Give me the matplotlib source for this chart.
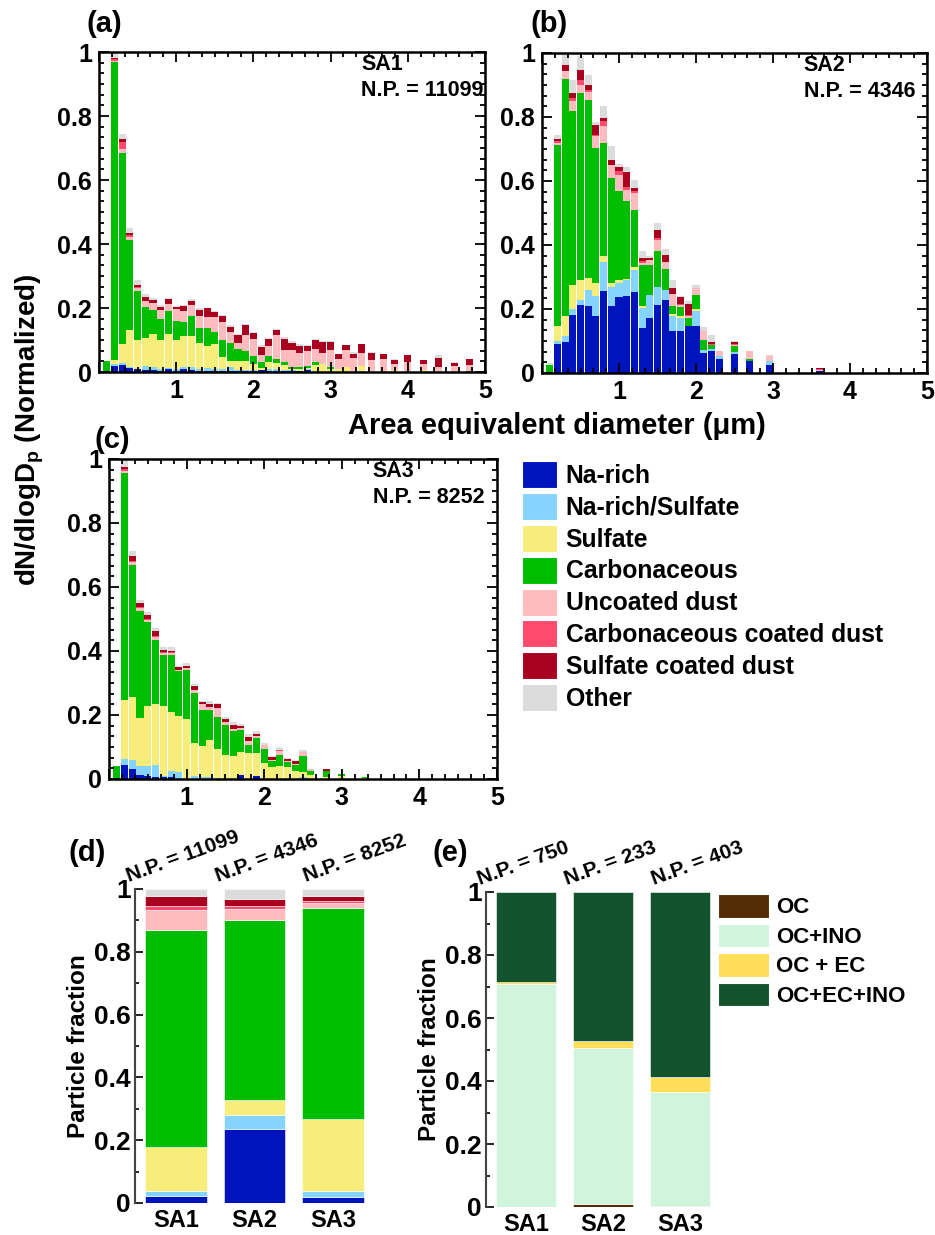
import numpy as np
import matplotlib
matplotlib.use("Agg")
import matplotlib.pyplot as plt
from matplotlib.patches import Patch
from matplotlib.ticker import MultipleLocator, FuncFormatter

plt.rcParams['font.family'] = ['Liberation Sans', 'DejaVu Sans']
plt.rcParams['font.weight'] = 'bold'
plt.rcParams['axes.labelweight'] = 'bold'
plt.rcParams['mathtext.fontset'] = 'custom'
plt.rcParams['mathtext.rm'] = 'Liberation Sans:bold'
plt.rcParams['mathtext.it'] = 'Liberation Sans:bold'
plt.rcParams['mathtext.bf'] = 'Liberation Sans:bold'

classes = ['Na-rich', 'Na-rich/Sulfate', 'Sulfate', 'Carbonaceous', 'Uncoated dust',
           'Carbonaceous coated dust', 'Sulfate coated dust', 'Other']
class_colors = ['#0014BE', '#85D4FF', '#F6ED7A', '#00BD00', '#FFBCBE', '#FF4A6E', '#AA0020', '#DCDCDC']

# ---- SA1 size distribution (bin centre in um, dN/dlogDp normalized) ----
sa1_d = [0.1, 0.2, 0.3, 0.4, 0.5, 0.6, 0.7, 0.8, 0.9, 1.0, 1.1, 1.2, 1.3, 1.4, 1.5, 1.6, 1.7, 1.8, 1.9, 2.0,
         2.1, 2.2, 2.3, 2.4, 2.5, 2.6, 2.7, 2.8, 2.9, 3.0, 3.1, 3.2, 3.3, 3.4, 3.53, 3.68, 3.83, 4.0, 4.2, 4.4,
         4.6, 4.8]
sa1_na = [0, .018, .021, .014, .010, .007, .005, .004, .008, .003, .008, .006, .003, .003, .004, .003, .003, .002,
          .002, .003, .005, .004, .004, .004, .003, .002, .006, 0, 0, 0, 0, 0, 0, 0, 0, 0, 0, 0, 0, 0, 0, 0]
sa1_nas = [0, .006, .007, .002, 0, .011, .011, .006, .004, .005, .008, .009, .007, .009, .006, .005, .012, .004,
           .003, .002, .002, .004, .006, .003, .002, 0, .002, .002, 0, 0, 0, 0, 0, .003, 0, 0, 0, 0, 0, 0, 0, 0]
sa1_sul = [0, .012, .061, .114, .089, .088, .104, .089, .108, .091, .095, .097, .080, .068, .076, .039, .018, .027,
           .030, .021, .004, .023, .019, .014, .005, .008, .004, .021, .024, .010, .008, .017, 0, .015, 0, 0, .005,
           .003, .005, 0, 0, 0]
sa1_carb = [.033, .932, .596, .281, .154, .097, .073, .068, .070, .059, .045, .064, .049, .059, .039, .052, .059,
            .040, .030, .023, .020, .019, .011, .010, .006, .006, .008, .007, 0, .005, 0, 0, 0, 0, 0, 0, 0, 0, 0,
            0, 0, .004]
sa1_dust = [0, .005, .013, .011, .011, .019, .023, .026, .021, .040, .034, .032, .037, .033, .047, .057, .033, .017,
            .050, .055, .021, .030, .075, .037, .052, .043, .046, .043, .034, .053, .034, .052, .045, .041, .036,
            .042, .021, .029, .019, .017, .020, .017]
sa1_cdust = [0, .005, .021, .006, .002, 0, 0, 0, 0, 0, 0, 0, 0, 0, 0, 0, 0, 0, 0, 0, 0, 0, 0, 0, 0, 0, 0, 0, 0, 0,
             0, 0, 0, 0, 0, 0, 0, 0, 0, 0, 0, 0]
sa1_sdust = [0, .003, .009, .007, .005, .012, .008, .010, .017, .005, .015, .015, .019, .028, .016, .018, .016,
             .025, .031, .018, .026, .024, .015, .036, .022, .022, .015, .026, .037, .025, .013, .015, .011, .027,
             .022, .013, .010, .020, .012, .026, .008, .019]
sa1_other = [0, .019, .015, .016, .015, .009, .008, .007, .003, .003, .003, .004, .005, .001, .002, .005, .007,
             .003, .003, .004, .005, .002, .004, .004, .006, .005, .002, .004, .003, .003, .001, .001, .008, .001,
             .004, 0, .006, 0, 0, .011, .002, .002]

# ---- SA2 ----
sa2_d = [0.1, 0.2, 0.3, 0.4, 0.5, 0.6, 0.7, 0.8, 0.9, 1.0, 1.1, 1.2, 1.3, 1.4, 1.5, 1.6, 1.7, 1.8, 1.9, 2.0,
         2.1, 2.2, 2.3, 2.5, 2.7, 2.95, 3.6]
sa2_na = [0, .091, .096, .182, .211, .210, .179, .255, .208, .238, .242, .252, .141, .172, .214, .227, .130, .130,
          .148, .146, .063, .068, .045, .060, .039, .026, .007]
sa2_nas = [0, .008, .019, .018, .016, .050, .063, .091, .061, .043, .048, .069, .062, .073, .055, .031, .047, .042,
           0, .047, .010, .008, .007, .005, 0, .010, 0]
sa2_sul = [0, .049, .062, .074, .065, .037, .039, .019, .012, .009, .004, .010, .005, 0, 0, 0, .008, .005, 0, .007,
           0, 0, 0, 0, 0, 0, 0]
sa2_carb = [.026, .566, .742, .544, .583, .557, .422, .354, .328, .278, .245, .179, .131, .094, .111, .067, .023,
            .030, .024, .045, .029, .010, 0, .018, .006, 0, 0]
sa2_dust = [0, .005, .024, .031, .026, .023, .037, .052, .042, .052, .034, .053, .005, .015, .037, .021, .040,
            .006, .006, .021, .030, 0, .018, .004, .023, .016, .002]
sa2_cdust = [0, .005, .002, .010, .014, .008, .005, .015, 0, .010, .007, .005, .005, 0, .005, 0, 0, .004, .004, 0,
             0, .004, 0, .003, 0, 0, .002]
sa2_sdust = [0, .007, .017, .016, .031, .014, .031, .010, .016, .013, .047, .010, .010, .006, .026, .024, .018,
             .020, .035, 0, 0, .007, 0, .006, 0, 0, .004]
sa2_other = [.005, .014, .035, .040, .044, .033, .007, .039, .043, .011, .017, .024, .021, .005, .021, .018, .026,
             .004, .009, .009, .012, .023, 0, .003, 0, .005, 0]

# ---- SA3 ----
sa3_d = [0.1, 0.2, 0.3, 0.4, 0.5, 0.6, 0.7, 0.8, 0.9, 1.0, 1.1, 1.2, 1.3, 1.4, 1.5, 1.6, 1.7, 1.8, 1.9, 2.0,
         2.1, 2.2, 2.3, 2.4, 2.5, 2.6, 2.8, 3.0, 3.3]
sa3_na = [0, .045, .031, .011, .008, .006, .005, .005, 0, 0, 0, 0, 0, 0, 0, 0, .011, 0, .008, 0, 0, 0, 0, 0, 0, 0,
          0, 0, 0]
sa3_nas = [0, .018, .029, .029, .034, .039, .003, .019, .022, .003, .008, .006, .006, .003, 0, 0, 0, 0, 0, 0, 0, 0,
           0, 0, .006, 0, 0, 0, 0]
sa3_sul = [0, .183, .195, .150, .185, .190, .219, .185, .174, .185, .105, .098, .117, .091, .076, .073, .072, .081,
           .073, .050, .036, .042, .038, .024, .016, .014, .006, .008, .002]
sa3_carb = [.040, .710, .415, .336, .263, .200, .159, .177, .140, .154, .156, .113, .094, .100, .094, .076, .069,
            .026, .047, .044, .019, .034, .014, .021, .049, .010, .018, .009, .003]
sa3_dust = [0, .005, .007, .008, .008, .009, .008, .007, .006, .005, .008, .018, .008, .028, .007, .007, .006, .011,
            .007, .013, .005, .010, .005, .003, .012, .008, .002, 0, 0]
sa3_cdust = [0, .008, .005, .003, .002, .002, .002, .003, 0, 0, 0, 0, 0, 0, 0, 0, .002, 0, 0, 0, 0, .006, 0, 0, 0,
             0, 0, 0, 0]
sa3_sdust = [0, .006, .014, .013, .014, .015, .007, .005, .007, .007, .013, .006, .010, .013, .010, .014, .005,
             .013, .007, 0, .008, 0, .005, .007, 0, 0, .006, 0, 0]
sa3_other = [0, .025, .015, .010, .007, .011, .009, .010, .003, .008, .008, .002, .008, .004, .006, .007, .007,
             .011, .009, .005, .003, .005, .003, .005, .009, 0, 0, 0, 0]

sites = ['SA1', 'SA2', 'SA3']
n_particles = [11099, 4346, 8252]

# ---- bulk class fractions per site (same class order) ----
frac_na = [.023, .235, .019]
frac_nas = [.014, .046, .020]
frac_sul = [.141, .048, .228]
frac_carb = [.692, .572, .674]
frac_dust = [.063, .035, .016]
frac_cdust = [.013, .010, .005]
frac_sdust = [.032, .021, .016]
frac_other = [.022, .033, .022]

# ---- carbonaceous mixing state ----
mix_labels = ['OC', 'OC+INO', 'OC + EC', 'OC+EC+INO']
mix_colors = ['#532C05', '#D0F5DC', '#FFDE5A', '#12532E']
n_carb = [750, 233, 403]
mix_oc = [0.0, .011, .003]
mix_oc_ino = [.707, .495, .362]
mix_oc_ec = [.007, .020, .048]
mix_oc_ec_ino = [.286, .474, .587]

W, H = 935, 1235
fig = plt.figure(figsize=(W / 100, H / 100), dpi=100)


def px_axes(l, t, r, b):
    return fig.add_axes([l / W, 1 - b / H, (r - l) / W, (b - t) / H])


def hist_panel(ax, d, layers, site, npart):
    bottom = np.zeros(len(d))
    for vals, col in zip(layers, class_colors):
        vals = np.asarray(vals, dtype=float)
        ax.bar(d, vals, 0.092, bottom=bottom, color=col, linewidth=0)
        bottom += vals
    ax.set_xlim(0, 5)
    ax.set_ylim(0, 1)
    ax.xaxis.set_major_locator(MultipleLocator(1))
    ax.xaxis.set_minor_locator(MultipleLocator(1 / 6))
    ax.yaxis.set_major_locator(MultipleLocator(0.2))
    ax.yaxis.set_minor_locator(MultipleLocator(0.2 / 6))
    ax.xaxis.set_major_formatter(FuncFormatter(lambda v, p: '' if abs(v) < 1e-9 else '%g' % v))
    ax.yaxis.set_major_formatter(FuncFormatter(lambda v, p: '%g' % round(v, 2)))
    ax.tick_params(which='both', direction='in', top=True, right=True, width=1.3, labelsize=18)
    ax.tick_params(which='major', length=7, pad=5)
    ax.tick_params(which='minor', length=3.5)
    for s in ax.spines.values():
        s.set_linewidth(1.8)
    ax.text(0.68, 0.96, site, transform=ax.transAxes, fontsize=15.5, va='center', ha='left')
    ax.text(0.68, 0.88, 'N.P. = %d' % npart, transform=ax.transAxes, fontsize=15.5, va='center', ha='left')


ax_a = px_axes(99, 52, 485, 372)
hist_panel(ax_a, sa1_d, [sa1_na, sa1_nas, sa1_sul, sa1_carb, sa1_dust, sa1_cdust, sa1_sdust, sa1_other],
           'SA1', n_particles[0])
ax_b = px_axes(542, 53, 927, 373)
hist_panel(ax_b, sa2_d, [sa2_na, sa2_nas, sa2_sul, sa2_carb, sa2_dust, sa2_cdust, sa2_sdust, sa2_other],
           'SA2', n_particles[1])
ax_c = px_axes(109, 459, 497, 779)
hist_panel(ax_c, sa3_d, [sa3_na, sa3_nas, sa3_sul, sa3_carb, sa3_dust, sa3_cdust, sa3_sdust, sa3_other],
           'SA3', n_particles[2])

fig.text(557 / W, 1 - 426 / H, 'Area equivalent diameter (\u03bcm)', fontsize=21, ha='center', va='center')
fig.text(30 / W, 1 - 430 / H, r'dN/dlogD$_{\rm p}$ (Normalized)', fontsize=20, ha='center', va='center',
         rotation=90)

handles = [Patch(facecolor=c, edgecolor='white', linewidth=0.8) for c in class_colors]
fig.legend(handles, classes, loc='upper left', bbox_to_anchor=(522 / W, 1 - 461 / H), frameon=False,
           fontsize=17.8, handlelength=1.42, handleheight=1.3, labelspacing=0.2, handletextpad=0.35,
           borderpad=0, borderaxespad=0)


def frac_panel(ax, layers, colors, counts):
    x = np.arange(3)
    bottom = np.zeros(3)
    for vals, col in zip(layers, colors):
        vals = np.asarray(vals, dtype=float)
        ax.bar(x, vals, 0.78, bottom=bottom, color=col, edgecolor='white', linewidth=0.4)
        bottom += vals
    ax.set_xlim(-0.52, 2.52)
    ax.set_ylim(0, 1)
    for s in ['top', 'right', 'bottom']:
        ax.spines[s].set_visible(False)
    ax.spines['left'].set_linewidth(1.5)
    ax.spines['left'].set_color('#444444')
    ax.set_xticks(x)
    ax.set_xticklabels(sites)
    ax.yaxis.set_major_locator(MultipleLocator(0.2))
    ax.yaxis.set_minor_locator(MultipleLocator(0.1))
    ax.yaxis.set_major_formatter(FuncFormatter(lambda v, p: '%g' % round(v, 2)))
    ax.tick_params(axis='x', length=0, labelsize=17, pad=4)
    ax.tick_params(axis='y', which='both', direction='in', labelsize=19, width=1.2)
    ax.tick_params(axis='y', which='major', length=6, pad=3)
    ax.tick_params(axis='y', which='minor', length=3)
    ax.set_ylabel('Particle fraction', fontsize=17.5, labelpad=3)
    for i, n in enumerate(counts):
        ax.text(i - 0.6 + 0.13 * i, 1.022, 'N.P. = %d' % n, fontsize=15, rotation=20, ha='left',
                va='baseline', rotation_mode='anchor', clip_on=False)


ax_d = px_axes(135, 889, 374, 1203)
frac_panel(ax_d, [frac_na, frac_nas, frac_sul, frac_carb, frac_dust, frac_cdust, frac_sdust, frac_other],
           class_colors, n_particles)
ax_e = px_axes(486, 892, 720, 1207)
frac_panel(ax_e, [mix_oc, mix_oc_ino, mix_oc_ec, mix_oc_ec_ino], mix_colors, n_carb)

mix_handles = [Patch(facecolor=c, edgecolor='white', linewidth=0.8) for c in mix_colors]
fig.legend(mix_handles, mix_labels, loc='upper left', bbox_to_anchor=(718 / W, 1 - 894 / H), frameon=False,
           fontsize=16, handlelength=2.3, handleheight=1.25, labelspacing=0.24, handletextpad=0.3,
           borderpad=0, borderaxespad=0)

for lab, x, y in [('(a)', 86, 24), ('(b)', 531, 24), ('(c)', 95, 440), ('(d)', 68, 853), ('(e)', 433, 853)]:
    fig.text(x / W, 1 - y / H, lab, fontsize=21, ha='left', va='center')

fig.savefig('out.png', dpi=100)
